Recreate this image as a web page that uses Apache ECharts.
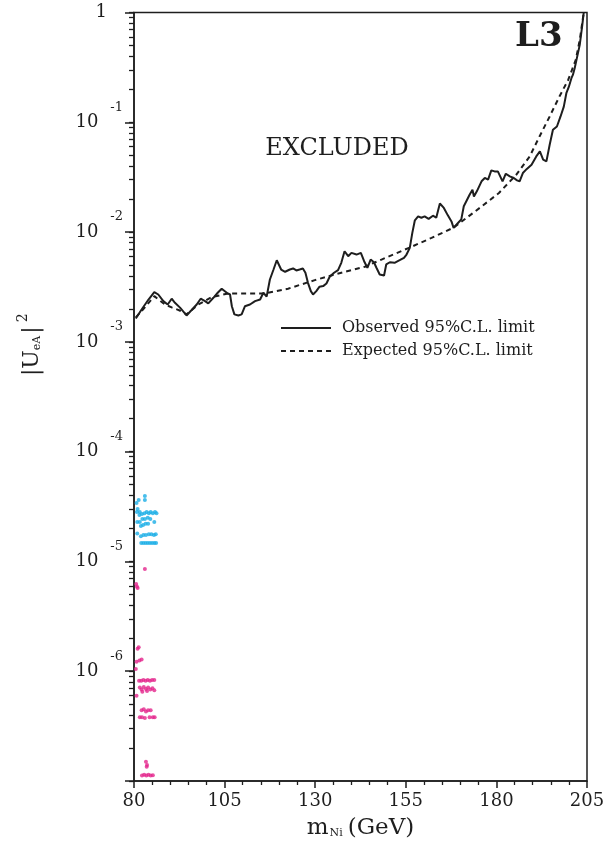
<!DOCTYPE html>
<html><head><meta charset="utf-8">
<script src="https://cdn.jsdelivr.net/npm/echarts@6/dist/echarts.min.js"></script>
<style>html,body{margin:0;padding:0;background:#fff}#c{width:610px;height:857px}</style>
</head><body><div id="c"></div>
<script>
// ---- data ----
const obsMass = [
 80.5,82.1,84.0,85.6,86.7,88.1,89.3,90.4,91.3,92.7,
 94.5,95.9,97.3,98.4,99.6,100.5,101.9,103.1,104.2,105.6,
 106.5,107.0,107.7,108.8,109.7,110.6,112.0,113.4,114.8,115.7,
 116.6,117.5,118.5,119.4,120.6,121.7,123.0,123.9,124.8,125.7,
 126.6,127.3,128.0,128.8,129.4,130.3,131.2,132.2,133.1,134.0,
 135.2,136.3,137.2,138.1,139.1,140.0,141.4,142.6,143.5,144.4,
 145.3,146.2,146.9,147.8,149.0,149.6,150.6,151.9,153.3,154.5,
 155.2,156.1,156.8,157.5,158.4,159.3,160.2,161.3,162.5,163.4,
 164.4,165.5,166.6,167.6,168.2,169.4,170.3,171.0,171.7,172.6,
 173.4,173.8,174.6,175.9,176.8,177.7,178.6,179.5,180.4,181.7,
 182.6,183.7,184.8,185.7,186.4,187.3,188.4,189.7,191.0,192.0,
 192.9,193.8,194.7,195.6,196.7,197.7,198.6,199.3,200.0,200.7,
 201.1,201.6,202.1,203.0,203.7,204.1];
const obsU = [
 1.63e-3,1.97e-3,2.43e-3,2.84e-3,2.70e-3,2.35e-3,2.19e-3,2.47e-3,2.27e-3,2.05e-3,
 1.74e-3,1.95e-3,2.19e-3,2.47e-3,2.35e-3,2.24e-3,2.52e-3,2.80e-3,3.05e-3,2.80e-3,
 2.70e-3,2.11e-3,1.78e-3,1.74e-3,1.78e-3,2.11e-3,2.19e-3,2.35e-3,2.43e-3,2.80e-3,
 2.58e-3,3.70e-3,4.56e-3,5.54e-3,4.56e-3,4.35e-3,4.56e-3,4.66e-3,4.47e-3,4.56e-3,
 4.66e-3,4.26e-3,3.45e-3,2.90e-3,2.70e-3,2.90e-3,3.18e-3,3.22e-3,3.40e-3,3.92e-3,
 4.26e-3,4.50e-3,5.25e-3,6.69e-3,6.03e-3,6.47e-3,6.24e-3,6.47e-3,5.43e-3,4.73e-3,
 5.62e-3,5.31e-3,4.73e-3,4.11e-3,4.02e-3,5.07e-3,5.31e-3,5.25e-3,5.54e-3,5.82e-3,
 6.24e-3,7.18e-3,9.84e-3,1.28e-2,1.39e-2,1.35e-2,1.39e-2,1.32e-2,1.41e-2,1.35e-2,
 1.82e-2,1.66e-2,1.42e-2,1.25e-2,1.09e-2,1.21e-2,1.30e-2,1.72e-2,1.91e-2,2.19e-2,
 2.43e-2,2.11e-2,2.35e-2,2.90e-2,3.11e-2,3.00e-2,3.65e-2,3.57e-2,3.57e-2,2.90e-2,
 3.40e-2,3.22e-2,3.11e-2,2.96e-2,2.90e-2,3.45e-2,3.76e-2,4.11e-2,4.89e-2,5.43e-2,
 4.56e-2,4.41e-2,6.24e-2,8.55e-2,9.16e-2,0.113,0.139,0.184,0.211,0.252,
 0.270,0.311,0.370,0.507,0.769,1.0];
const expMass = [80.5,83.0,85.6,88.5,90.4,92.6,94.5,97.8,101.4,106.0,116.1,122.5,129.9,135.4,143.7,148.3,
 156.5,162.1,168.0,169.9,175.4,180.7,185.5,189.2,191.9,194.7,197.4,199.8,201.9,203.0,204.1];
const expU = [1.67e-3,2.06e-3,2.61e-3,2.19e-3,2.06e-3,1.93e-3,1.78e-3,2.19e-3,2.55e-3,2.76e-3,2.76e-3,3.05e-3,
 3.65e-3,4.11e-3,4.83e-3,5.62e-3,7.33e-3,8.85e-3,1.09e-2,1.21e-2,1.66e-2,2.27e-2,3.33e-2,4.89e-2,7.43e-2,
 0.113,0.172,0.243,0.370,0.562,1.0];
const cyanMass = [83.0,83.0,81.3,80.7,81.0,81.6,
 80.8,81.5,82.2,82.9,83.5,84.1,84.6,85.2,85.8,86.2,
 80.9,81.6,82.3,83.0,83.8,84.5,85.6,
 81.9,82.5,83.2,83.9,
 80.9,81.9,82.6,83.3,84.1,84.8,85.5,86.0,
 82.0,82.6,83.2,83.8,84.4,85.0,85.6,86.1];
const cyanU = [3.94e-5,3.62e-5,3.62e-5,3.40e-5,3.00e-5,2.82e-5,
 2.82e-5,2.65e-5,2.70e-5,2.75e-5,2.82e-5,2.75e-5,2.82e-5,2.75e-5,2.82e-5,2.75e-5,
 2.29e-5,2.29e-5,2.43e-5,2.43e-5,2.50e-5,2.43e-5,2.29e-5,
 2.10e-5,2.15e-5,2.20e-5,2.20e-5,
 1.80e-5,1.70e-5,1.74e-5,1.74e-5,1.77e-5,1.77e-5,1.74e-5,1.77e-5,
 1.47e-5,1.47e-5,1.47e-5,1.47e-5,1.47e-5,1.47e-5,1.47e-5,1.47e-5];
const magMass = [83.0,80.6,81.0,80.8,
 81.0,81.3,80.7,81.5,82.1,80.5,
 81.4,82.0,82.6,83.2,83.8,84.4,85.0,85.6,
 81.6,82.1,82.7,83.3,83.9,84.5,85.1,85.6,82.3,83.6,
 80.7,
 82.1,82.7,83.3,83.9,84.6,
 81.6,82.2,83.0,84.3,85.2,85.7,
 83.3,83.6,83.5,
 82.2,82.8,83.4,84.0,84.6,85.2];
const magU = [8.55e-6,6.24e-6,5.74e-6,5.90e-6,
 1.60e-6,1.65e-6,1.22e-6,1.25e-6,1.28e-6,1.05e-6,
 8.2e-7,8.2e-7,8.3e-7,8.2e-7,8.3e-7,8.2e-7,8.3e-7,8.3e-7,
 7.1e-7,6.8e-7,7.2e-7,6.9e-7,7.1e-7,6.8e-7,7.0e-7,6.7e-7,6.5e-7,6.6e-7,
 5.99e-7,
 4.4e-7,4.5e-7,4.3e-7,4.4e-7,4.4e-7,
 3.8e-7,3.8e-7,3.75e-7,3.8e-7,3.8e-7,3.8e-7,
 1.5e-7,1.4e-7,1.35e-7,
 1.12e-7,1.14e-7,1.12e-7,1.14e-7,1.12e-7,1.13e-7];
const xTickLabels = ['80','105','130','155','180','205'];
const yTickValues = [1, 1e-1, 1e-2, 1e-3, 1e-4, 1e-5, 1e-6];
const yTickExponents = ['', '-1', '-2', '-3', '-4', '-5', '-6'];
const seriesNames = ['Observed 95%C.L. limit', 'Expected 95%C.L. limit'];

// ---- chart ----
const FONT = 'DejaVu Serif';
const INK = '#1e1e1e';
const zip = (a, b) => a.map((v, i) => [v, b[i]]);
const yMinor = [];
for (let e = -7; e <= -1; e++) for (let k = 1; k <= 9; k++) yMinor.push(k * Math.pow(10, e));
yMinor.push(1);

const chart = echarts.init(document.getElementById('c'), null, {renderer: 'canvas'});
chart.setOption({
  animation: false,
  backgroundColor: '#fff',
  grid: {left: 134, right: 23, top: 12.5, bottom: 76, show: true, borderColor: INK, borderWidth: 1.5,
         outerBoundsMode: 'none', containLabel: false},
  legend: {
    data: seriesNames, orient: 'vertical', left: 280, top: 320, padding: 0,
    itemWidth: 50, itemHeight: 14, itemGap: 7,
    itemStyle: {opacity: 0},
    textStyle: {fontFamily: FONT, fontSize: 16, color: INK, padding: [0, 0, 0, 6]}
  },
  xAxis: {
    type: 'value', min: 80, max: 205, interval: 25,
    axisLine: {lineStyle: {color: INK, width: 1.5}},
    axisTick: {inside: false, length: 7, lineStyle: {color: INK, width: 1.5}},
    minorTick: {show: true, splitNumber: 5, length: 4, lineStyle: {color: INK, width: 1.3}},
    splitLine: {show: false}, minorSplitLine: {show: false},
    axisLabel: {margin: 11, fontFamily: FONT, fontSize: 18, color: INK,
      formatter: v => xTickLabels[Math.round((v - 80) / 25)] || ''},
    name: '{a|m}{sub|Ni}{a|(GeV)}', nameLocation: 'middle', nameGap: 36,
    nameTextStyle: {fontFamily: FONT, fontSize: 23, color: INK,
      rich: {a: {fontFamily: FONT, fontSize: 23, color: INK},
             sub: {fontFamily: FONT, fontSize: 11, color: INK, padding: [10, 5, 0, 1]}}}
  },
  yAxis: [{
    type: 'log', logBase: 10, min: 1e-7, max: 1,
    axisLine: {lineStyle: {color: INK, width: 1.5}},
    axisTick: {inside: false, length: 9, customValues: yTickValues.concat([1e-7]), lineStyle: {color: INK, width: 1.5}},
    splitLine: {show: false}, minorSplitLine: {show: false},
    axisLabel: {
      margin: 11, customValues: yTickValues, color: INK,
      formatter: function (v) {
        const i = yTickValues.findIndex(t => Math.abs(Math.log10(t) - Math.log10(v)) < 1e-6);
        if (i < 0) return '';
        if (i === 0) return '{b|1}{g| }';
        return '{b|10}{s|' + yTickExponents[i] + '}';
      },
      rich: {
        b: {fontFamily: FONT, fontSize: 18, color: INK},
        s: {fontFamily: FONT, fontSize: 13, color: INK, padding: [0, 0, 30, 12]},
        g: {fontFamily: FONT, fontSize: 13, width: 16}
      }
    },
    name: '{a||U}{sub|eA}{a||}{sup|2}', nameLocation: 'middle', nameGap: 86,
    nameTextStyle: {fontFamily: FONT, fontSize: 22, color: INK, padding: [0, 0, 0, 104],
      rich: {a: {fontFamily: FONT, fontSize: 22, color: INK},
             sub: {fontFamily: FONT, fontSize: 11, color: INK, padding: [10, 2, 0, 0]},
             sup: {fontFamily: FONT, fontSize: 14, color: INK, padding: [0, 0, 18, 4]}}}
  }, {
    type: 'log', logBase: 10, min: 1e-7, max: 1, position: 'left',
    axisLine: {show: false}, axisLabel: {show: false}, splitLine: {show: false},
    axisTick: {show: true, inside: false, length: 5, customValues: yMinor, lineStyle: {color: INK, width: 1.3}}
  }],
  graphic: [
    {type: 'text', x: 515, y: 20, style: {text: 'L3', fontFamily: FONT, fontWeight: 'bold', fontSize: 34, fill: INK}},
    {type: 'text', x: 337, y: 149, style: {text: 'EXCLUDED', fontFamily: FONT, fontSize: 24, fill: INK, align: 'center', verticalAlign: 'middle'}}
  ],
  series: [
    {name: seriesNames[0], type: 'line', data: zip(obsMass, obsU), symbol: 'none', z: 4,
     lineStyle: {color: INK, width: 2}, itemStyle: {color: INK}},
    {name: seriesNames[1], type: 'line', data: zip(expMass, expU), symbol: 'none', z: 3,
     lineStyle: {color: INK, width: 2, type: [5, 4]}, itemStyle: {color: INK}},
    {type: 'scatter', data: zip(cyanMass, cyanU), symbol: 'circle', symbolSize: 4,
     itemStyle: {color: '#1aaee6'}},
    {type: 'scatter', data: zip(magMass, magU), symbol: 'circle', symbolSize: 4,
     itemStyle: {color: '#e4258c'}}
  ]
});
</script></body></html>
